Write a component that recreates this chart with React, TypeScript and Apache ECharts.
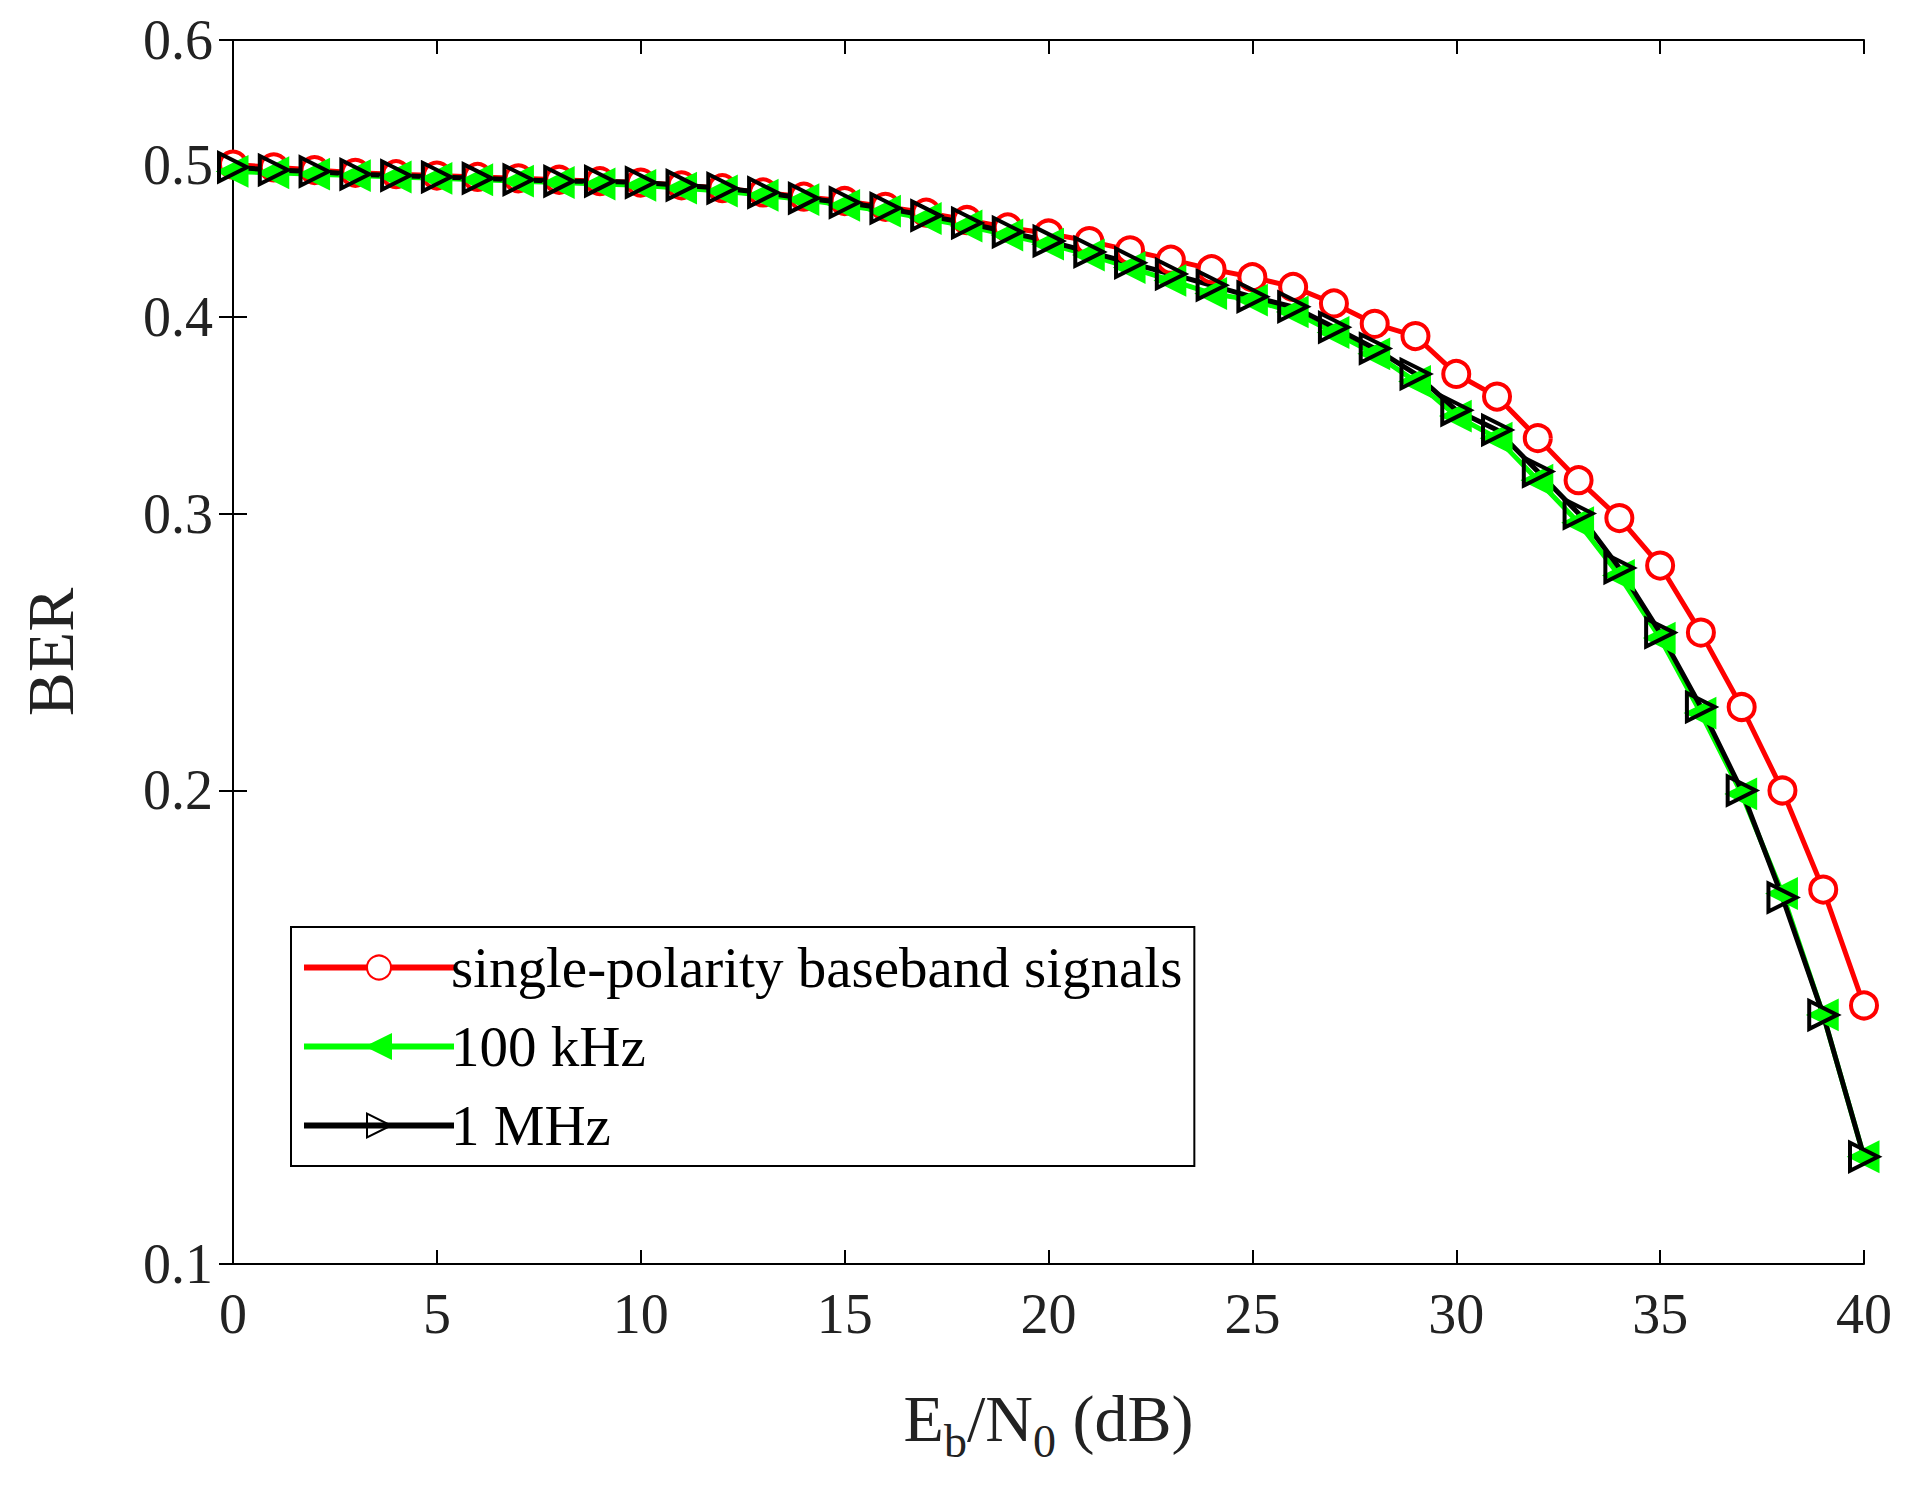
import { useEffect, useRef } from "react";
import * as echarts from "echarts";

const ebn0 = Array.from({ length: 41 }, (_, i) => i);

const singlePolarity = [
  0.5, 0.498, 0.496, 0.494, 0.493, 0.492, 0.491, 0.49, 0.489, 0.488, 0.487,
  0.485, 0.483, 0.48, 0.477, 0.474, 0.47, 0.466, 0.461, 0.456, 0.452,
  0.447, 0.441, 0.435, 0.429, 0.424, 0.418, 0.408, 0.396, 0.389, 0.368,
  0.356, 0.335, 0.315, 0.298, 0.278, 0.252, 0.226, 0.2, 0.173, 0.146,
];

const khz100 = [
  0.495, 0.494, 0.493, 0.492, 0.491, 0.49, 0.489, 0.488, 0.487, 0.486, 0.485,
  0.483, 0.481, 0.478, 0.475, 0.471, 0.467, 0.462, 0.457, 0.451, 0.445,
  0.438, 0.43, 0.422, 0.414, 0.41, 0.403, 0.391, 0.379, 0.364, 0.346,
  0.335, 0.315, 0.296, 0.274, 0.25, 0.224, 0.199, 0.172, 0.144, 0.117,
];

const mhz1 = [
  0.498, 0.496, 0.495, 0.493, 0.492, 0.491, 0.49, 0.489, 0.488, 0.488, 0.487,
  0.485, 0.483, 0.48, 0.476, 0.473, 0.469, 0.464, 0.459, 0.453, 0.447,
  0.44, 0.433, 0.426, 0.419, 0.412, 0.406, 0.394, 0.382, 0.368, 0.349,
  0.339, 0.319, 0.3, 0.277, 0.252, 0.226, 0.2, 0.171, 0.144, 0.117,
];

const yTicks = [0.1, 0.2, 0.3, 0.4, 0.5, 0.6];
const xTicks = [0, 5, 10, 15, 20, 25, 30, 35, 40];

const FONT = "Liberation Serif";
const lg = (v: number) => Math.log10(v);
const pts = (arr: number[]) => arr.map((v, i) => [ebn0[i], lg(v)]);

export default function App() {
  const ref = useRef<HTMLDivElement>(null);

  useEffect(() => {
    if (!ref.current) return;
    const chart = echarts.init(ref.current, null, { renderer: "svg" });
    const yCustom = yTicks.map(lg);
    const yAxisBase = {
      type: "value" as const,
      min: lg(0.1),
      max: lg(0.6),
      axisLine: { show: true, lineStyle: { color: "#000", width: 2 } },
      axisTick: { show: true, inside: true, length: 14, customValues: yCustom, lineStyle: { color: "#000", width: 2 } },
      splitLine: { show: false },
    };
    const xAxisBase = {
      type: "value" as const,
      min: 0,
      max: 40,
      axisLine: { show: true, lineStyle: { color: "#000", width: 2 } },
      axisTick: { show: true, inside: true, length: 14, customValues: xTicks, lineStyle: { color: "#000", width: 2 } },
      splitLine: { show: false },
    };
    chart.setOption({
      animation: false,
      backgroundColor: "#fff",
      textStyle: { fontFamily: FONT },
      grid: { left: 225, right: 37, top: 32, bottom: 239, containLabel: false },
      legend: {
        orient: "vertical",
        left: 283,
        top: 919,
        backgroundColor: "#fff",
        borderColor: "#000",
        borderWidth: 2,
        padding: [12, 12, 12, 10],
        itemWidth: 150,
        itemHeight: 30,
        itemGap: 22,
        lineStyle: { width: 6 },
        textStyle: { fontFamily: FONT, fontSize: 57, color: "#000", padding: [0, 0, 0, -8] },
        data: ["single-polarity baseband signals", "100 kHz", "1 MHz"],
      },
      xAxis: [
        {
          ...xAxisBase,
          position: "bottom",
          axisLabel: {
            customValues: xTicks,
            fontFamily: FONT,
            fontSize: 56,
            color: "#222",
            margin: 22,
          },
          name: "{n|E}{s|b}{n|/N}{s|0}{n| (dB)}",
          nameLocation: "middle",
          nameGap: 108,
          nameTextStyle: {
            rich: {
              n: { fontFamily: FONT, fontSize: 66, color: "#222" },
              s: { fontFamily: FONT, fontSize: 46, color: "#222", padding: [46, 0, 0, 0] },
            },
          },
        },
        { ...xAxisBase, position: "top", axisLabel: { show: false } },
      ],
      yAxis: [
        {
          ...yAxisBase,
          position: "left",
          axisLabel: {
            customValues: yCustom,
            formatter: (v: number) => Math.pow(10, v).toFixed(1),
            fontFamily: FONT,
            fontSize: 56,
            color: "#222",
            margin: 20,
          },
          name: "BER",
          nameLocation: "middle",
          nameGap: 150,
          nameTextStyle: { fontFamily: FONT, fontSize: 66, color: "#222" },
        },
        { ...yAxisBase, position: "right", axisLabel: { show: false } },
      ],
      series: [
        {
          name: "single-polarity baseband signals",
          type: "line",
          data: pts(singlePolarity),
          symbol: "circle",
          symbolSize: 26,
          lineStyle: { color: "#ff0000", width: 5 },
          itemStyle: { color: "#fff", borderColor: "#ff0000", borderWidth: 4 },
        },
        {
          name: "100 kHz",
          type: "line",
          data: pts(khz100),
          symbol: "triangle",
          symbolRotate: 90,
          symbolSize: 28,
          lineStyle: { color: "#00ff00", width: 5 },
          itemStyle: { color: "#00ff00", borderColor: "#00ff00", borderWidth: 3 },
        },
        {
          name: "1 MHz",
          type: "line",
          data: pts(mhz1),
          symbol: "triangle",
          symbolRotate: -90,
          symbolSize: 28,
          lineStyle: { color: "#000", width: 5 },
          itemStyle: { color: "rgba(0,0,0,0)", borderColor: "#000", borderWidth: 4 },
        },
      ],
    });
    return () => chart.dispose();
  }, []);

  return <div ref={ref} style={{ width: 1893, height: 1495 }} />;
}
